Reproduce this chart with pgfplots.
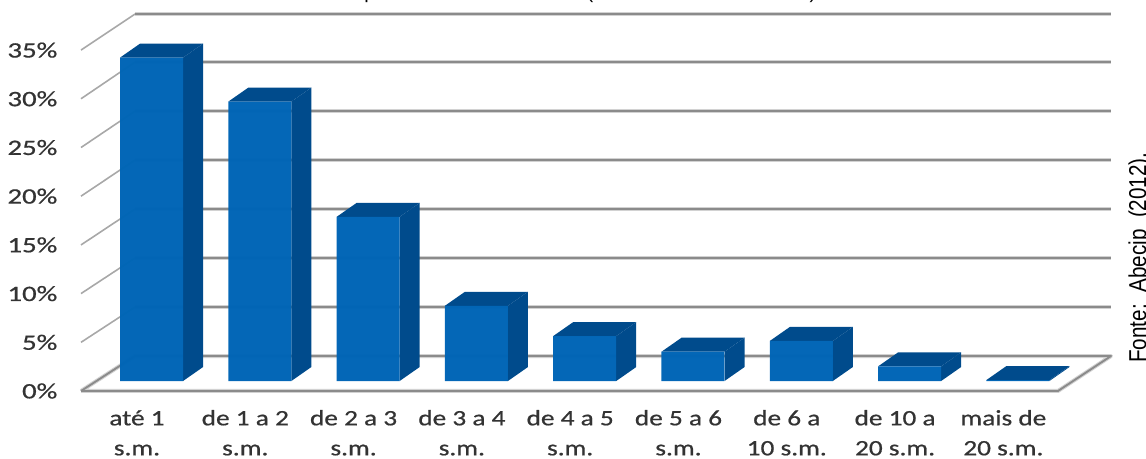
\documentclass[border=0pt]{standalone}
\usepackage{fontspec}
\setmainfont[RawFeature={embolden=0.6}]{Carlito}
\newfontfamily\fontearial{Liberation Sans}
\usepackage{pgfplots}
\usepackage{pgfplotstable}
\pgfplotsset{compat=1.18}
\definecolor{barfront}{HTML}{0065B6}
\definecolor{bardark}{HTML}{004B8C}
\definecolor{gridgray}{HTML}{8B8B8B}
\definecolor{gridhalo}{HTML}{D2D2D2}
\definecolor{walldiag}{HTML}{A8A8A8}
\definecolor{labelgray}{HTML}{333333}

% Share of people per income bracket, in percent
\pgfplotstableread{
pos v
0 33.1
1 28.6
2 16.8
3 7.7
4 4.6
5 3.0
6 4.1
7 1.5
8 0.1
}\rendas

% Horizontally widened label text
\newcommand{\wide}[1]{\scalebox{1.24}[1]{#1}}
\newcommand{\lab}[2]{\wide{\fontsize{16.5}{22.5}\selectfont\begin{tabular}[c]{@{}c@{}}#1\\#2\end{tabular}}}
\newcommand{\pct}[1]{\scalebox{1.31}[1]{\fontsize{16.5}{18}\selectfont #1\%}}

% One gridline: left wall diagonal, then along the back wall
\newcommand{\gridline}[2]{%
  \addplot[walldiag, line width=1.2pt] coordinates {(-0.651,#1) (-0.152,#2)};
  \addplot[gridhalo, line width=3pt, line join=round] coordinates {(-0.152,#2) (8.860,#2)};
  \addplot[gridgray, line width=1.4pt, line join=round] coordinates {(-0.152,#2) (8.860,#2)};
}

\begin{document}
\begin{tikzpicture}
\begin{axis}[
  at={(0,0)}, anchor=south west,
  scale only axis,
  width=859.5pt, height=344.25pt,
  xmin=-1.399, xmax=9.183,
  ymin=-7.98, ymax=39.0,
  axis line style={draw=none},
  tick style={draw=none},
  bar width=47.25pt,
  xtick={-0.134,0.866,1.866,2.866,3.866,4.866,5.866,6.866,7.866},
  xticklabels={
    {\lab{até 1}{s.m.}},{\lab{de 1 a 2}{s.m.}},{\lab{de 2 a 3}{s.m.}},
    {\lab{de 3 a 4}{s.m.}},{\lab{de 4 a 5}{s.m.}},{\lab{de 5 a 6}{s.m.}},
    {\lab{de 6 a}{10 s.m.}},{\lab{de 10 a}{20 s.m.}},{\lab{mais de}{20 s.m.}}},
  xticklabel style={anchor=center, yshift=18.5pt, text=labelgray},
  ytick={-1.02,3.96,8.95,13.93,18.92,23.9,28.89,33.87},
  yticklabels={\pct{0},\pct{5},\pct{10},\pct{15},\pct{20},\pct{25},\pct{30},\pct{35}},
  yticklabel style={anchor=east, xshift=46.5pt, text=labelgray},
]
% Gridlines of the back wall and left wall
\gridline{3.96}{7.57}
\gridline{8.95}{12.59}
\gridline{13.93}{17.6}
\gridline{18.92}{22.62}
\gridline{23.9}{27.63}
\gridline{28.89}{32.64}
\gridline{33.87}{37.56}
% Floor outline
\addplot[gridhalo, line width=3pt, line join=round] coordinates {(-0.651,-1.02) (8.370,-1.02) (8.860,2.56) (-0.152,2.56) (-0.651,-1.02)};
\addplot[gridgray, line width=1.4pt, line join=round] coordinates {(-0.651,-1.02) (8.370,-1.02) (8.860,2.56) (-0.152,2.56) (-0.651,-1.02)};

% Side and top faces of each block
\pgfplotsinvokeforeach{0,...,8}{
  \pgfplotstablegetelem{#1}{v}\of\rendas
  \pgfmathsetmacro{\hh}{\pgfplotsretval}
  \pgfmathsetmacro{\hd}{\hh+1.43}
  \pgfmathsetmacro{\xl}{#1-0.2909}
  \pgfmathsetmacro{\xr}{#1+0.2909}
  \pgfmathsetmacro{\xld}{\xl+0.1847}
  \pgfmathsetmacro{\xrd}{\xr+0.1847}
  \addplot[draw=none, fill=bardark] coordinates {(\xr,0) (\xrd,1.43) (\xrd,\hd) (\xr,\hh) (\xr,0)};
  \addplot[draw=none, fill=bardark] coordinates {(\xl,\hh) (\xld,\hd) (\xrd,\hd) (\xr,\hh) (\xl,\hh)};
}
% Front faces
\addplot[ybar, draw=none, fill=barfront, fill opacity=0.985] table[x=pos, y=v] {\rendas};

% Lower part of the cut-off heading
\node[anchor=base, font=\fontearial\fontsize{15}{18}\selectfont] at (axis cs:2.017,39.15) {p};
\node[anchor=base, font=\fontearial\fontsize{15}{18}\selectfont] at (axis cs:4.049,39.15) {(};
\node[anchor=base, font=\fontearial\fontsize{15}{18}\selectfont] at (axis cs:6.108,39.15) {)};
\end{axis}
% Source note along the right edge
\node[rotate=90, anchor=base west, inner sep=0pt, font=\fontearial\fontsize{15.5}{18}\selectfont, text=black] at (859.5pt,72pt) {\scalebox{1}[1.18]{Fonte:\ \ Abecip\ \ (2012).}};
\pgfresetboundingbox
\path[use as bounding box] (0,0) rectangle (859.5pt,344.25pt);
\end{tikzpicture}
\end{document}
